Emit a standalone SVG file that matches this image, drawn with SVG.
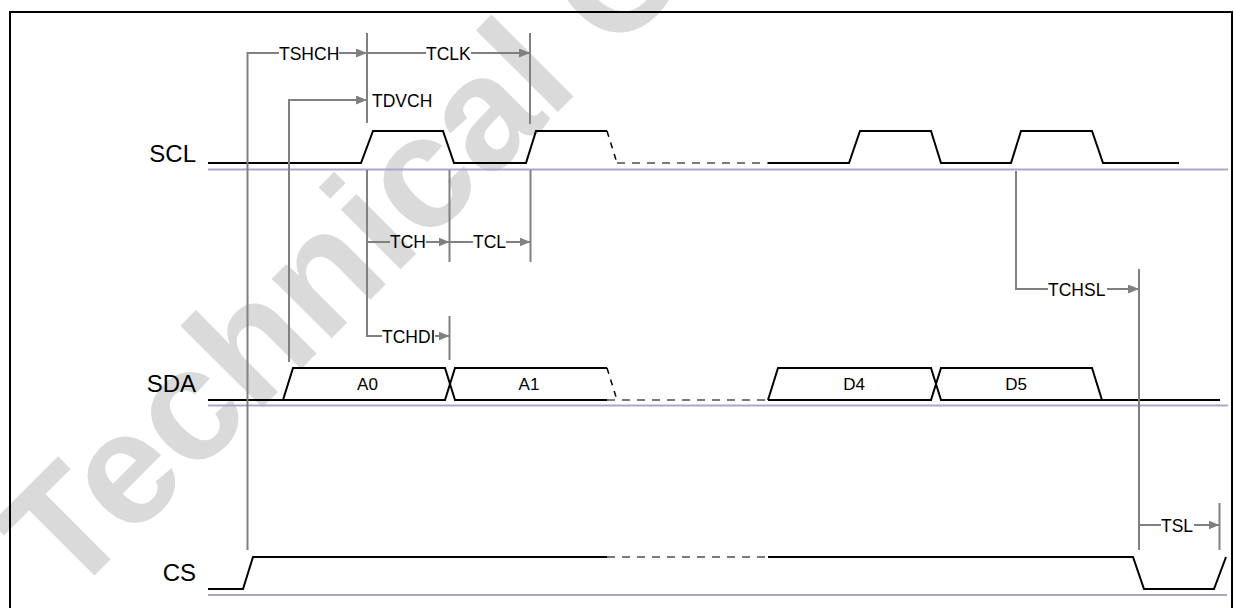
<svg xmlns="http://www.w3.org/2000/svg" width="1234" height="608" viewBox="0 0 1234 608">
<style>
.sig{stroke:#000;stroke-width:2;fill:none;stroke-linejoin:miter}
.dsh{stroke:#000;stroke-width:1.5;fill:none;stroke-dasharray:6 6}
.gdsh{stroke:#7a7a7a;stroke-width:2;fill:none;stroke-dasharray:8 7}
.ref{stroke:#a9a9c6;stroke-width:2;fill:none}
.dim{stroke:#808080;stroke-width:2;fill:none}
.arr{marker-end:url(#ah)}
.t{font-family:"Liberation Sans",Arial,sans-serif;font-size:17.5px;fill:#000}
.b{font-family:"Liberation Sans",Arial,sans-serif;font-size:17px;fill:#000;text-anchor:middle}
.n{font-family:"Liberation Sans",Arial,sans-serif;font-size:24px;fill:#000;text-anchor:end}
.wm{font-family:"Liberation Sans",Arial,sans-serif;font-size:160px;font-weight:bold;fill:#dadada}
</style>
<defs>
<marker id="ah" markerWidth="11" markerHeight="9" refX="11" refY="4.5" orient="auto" markerUnits="userSpaceOnUse">
<path d="M0,0 L11,4.5 L0,9 z" fill="#808080"/>
</marker>
</defs>
<rect width="1234" height="608" fill="#fff"/>
<g id="watermark">
<text class="wm" x="68" y="602" transform="rotate(-45 68 602)">Technical C</text>
</g>
<rect id="frame" x="10" y="12" width="1222" height="620" fill="none" stroke="#000" stroke-width="2"/>
<g id="refs">
<line class="ref" x1="208" y1="169.5" x2="1228" y2="169.5"/>
<line class="ref" x1="208" y1="405.5" x2="1228" y2="405.5"/>
<line class="ref" x1="208" y1="595" x2="1227" y2="595"/>
</g>
<g id="signal-scl">
<text class="n" x="196" y="162">SCL</text>
<path class="sig" d="M208,163 H361 L373,131 H443 L454,163 H526 L536,131 H607"/>
<path class="dsh" d="M607,131 L617,163"/>
<path class="gdsh" d="M617,163 H768"/>
<path class="sig" d="M768,163 H849 L860,131 H931 L941,163 H1011 L1021,131 H1092 L1103,163 H1179"/>
</g>
<g id="signal-sda">
<text class="n" x="196" y="392">SDA</text>
<path class="sig" d="M208,400 H283 L293,368 H445 L455,400 H607"/>
<path class="sig" d="M283,400 H445 L455,368 H607"/>
<path class="dsh" d="M607,368 L617,400"/>
<path class="gdsh" d="M607,400 H768"/>
<path class="sig" d="M768,400 L778,368 H931 L941,400 H1220"/>
<path class="sig" d="M768,400 H931 L941,368 H1092 L1102,400"/>
<text class="b" x="367.5" y="390">A0</text>
<text class="b" x="529" y="390">A1</text>
<text class="b" x="854" y="390">D4</text>
<text class="b" x="1016" y="390">D5</text>
</g>
<g id="signal-cs">
<text class="n" x="196" y="581">CS</text>
<path class="sig" d="M208,589 H243 L253,557 H607"/>
<path class="gdsh" d="M607,557 H768"/>
<path class="sig" d="M768,557 H1133 L1144,589 H1214 L1226,557"/>
</g>
<g id="connectors">
<line class="dim" x1="367" y1="33" x2="367" y2="123"/>
<line class="dim" x1="530" y1="33" x2="530" y2="124"/>
<line class="dim" x1="449.5" y1="170" x2="449.5" y2="262"/>
<line class="dim" x1="530.5" y1="170" x2="530.5" y2="262"/>
<line class="dim" x1="449.5" y1="316" x2="449.5" y2="360"/>
<line class="dim" x1="1139" y1="269" x2="1139" y2="550"/>
<line class="dim" x1="1219.5" y1="503" x2="1219.5" y2="550"/>
<g id="tshch">
<path class="dim" d="M247.5,550 V53 H279"/>
<path class="dim arr" d="M339,53 H367"/>
<text class="t" x="279" y="59.5">TSHCH</text>
</g>
<g id="tclk">
<path class="dim" d="M367,53 H426"/>
<path class="dim arr" d="M471,53 H530"/>
<text class="t" x="426" y="59.5">TCLK</text>
</g>
<g id="tdvch">
<path class="dim arr" d="M289,362 V100 H367"/>
<text class="t" x="372" y="106.5">TDVCH</text>
</g>
<g id="tch">
<path class="dim" d="M367,170 V336 H382"/>
<path class="dim" d="M367,242 H390"/>
<path class="dim arr" d="M426,242 H449.5"/>
<text class="t" x="390" y="248">TCH</text>
</g>
<g id="tcl">
<path class="dim" d="M449.5,242 H473"/>
<path class="dim arr" d="M506,242 H530.5"/>
<text class="t" x="473" y="248">TCL</text>
</g>
<g id="tchdi">
<path class="dim arr" d="M435,336 H449.5"/>
<text class="t" x="382" y="342.5">TCHDI</text>
</g>
<g id="tchsl">
<path class="dim" d="M1016,171 V289 H1048"/>
<path class="dim arr" d="M1107,289 H1139"/>
<text class="t" x="1048" y="295.5">TCHSL</text>
</g>
<g id="tsl">
<path class="dim" d="M1139,525 H1161"/>
<path class="dim arr" d="M1194,525 H1219.5"/>
<text class="t" x="1161" y="531.5">TSL</text>
</g>
</g>
</svg>
